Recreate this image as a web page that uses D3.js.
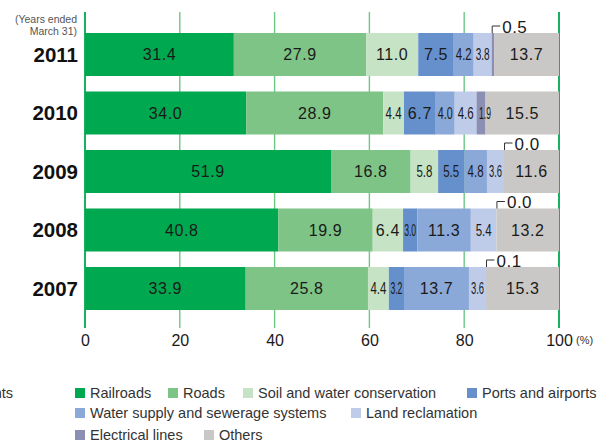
<!DOCTYPE html>
<html>
<head>
<meta charset="utf-8">
<script src="https://cdn.jsdelivr.net/npm/d3@7"></script>
<style>
  html, body { margin: 0; padding: 0; background: #fff; }
  svg { display: block; font-family: "Liberation Sans", Arial, Helvetica, sans-serif; }
</style>
</head>
<body>
<svg id="chart" width="597" height="443"></svg>
<script>
const years = ["2011", "2010", "2009", "2008", "2007"];
const categories = ["Railroads", "Roads", "Soil and water conservation", "Ports and airports",
  "Water supply and sewerage systems", "Land reclamation", "Electrical lines", "Others"];
const railroads  = [31.4, 34.0, 51.9, 40.8, 33.9];
const roads      = [27.9, 28.9, 16.8, 19.9, 25.8];
const soil       = [11.0, 4.4, 5.8, 6.4, 4.4];
const ports      = [7.5, 6.7, 5.5, 3.0, 3.2];
const water      = [4.2, 4.0, 4.8, 11.3, 13.7];
const land       = [3.8, 4.6, 3.6, 5.4, 3.6];
const electrical = [0.5, 1.9, 0.0, 0.0, 0.1];
const others     = [13.7, 15.5, 11.6, 13.2, 15.3];
const tickValues = [0, 20, 40, 60, 80, 100];
const colors = ["#00a850", "#7fc487", "#c6e4c5", "#6690cc", "#8aa8d8", "#bfcce9", "#8a8fb3", "#c9c8c6"];
const calloutIndex = 6; // electrical lines labelled outside when tiny
const calloutYears = ["2011", "2009", "2008", "2007"];

const series = [railroads, roads, soil, ports, water, land, electrical, others];
const rows = years.map((y, i) => {
  const r = { year: y };
  categories.forEach((c, k) => r[c] = series[k][i]);
  return r;
});
const stack = d3.stack().keys(categories)(rows);

const svg = d3.select("#chart");
const x = d3.scaleLinear().domain([0, 100]).range([85, 559]);
const y = d3.scaleBand().domain(years).range([25.25, 317.75]).paddingInner(0.265).paddingOuter(0.1325);

// grid lines
const grid = svg.append("g");
grid.selectAll("line").data(tickValues).join("line")
  .attr("x1", d => x(d)).attr("x2", d => x(d))
  .attr("y1", 12).attr("y2", 328)
  .attr("stroke", d => (d === 0 || d === 100) ? "#00a850" : "#6cc884")
  .attr("stroke-width", d => (d === 0 || d === 100) ? 1.8 : 1.4);

// bars
const layers = svg.append("g").selectAll("g").data(stack).join("g")
  .attr("fill", (d, k) => colors[k]);
layers.selectAll("rect").data(d => d).join("rect")
  .attr("x", d => x(d[0]))
  .attr("y", d => y(d.data.year))
  .attr("width", d => x(d[1]) - x(d[0]))
  .attr("height", y.bandwidth());

// value labels
const labels = svg.append("g").attr("font-size", 16).attr("fill", "#1a1a1a");
stack.forEach((layer, k) => {
  layer.forEach(d => {
    const yr = d.data.year;
    const v = d.data[layer.key];
    if (k === calloutIndex && calloutYears.includes(yr)) return;
    const segW = x(d[1]) - x(d[0]);
    let cx = (x(d[0]) + x(d[1])) / 2;
    if (segW < 12) cx += 4;
    const cy = y(yr) + y.bandwidth() / 2;
    const t = labels.append("text")
      .attr("dy", "0.36em")
      .attr("text-anchor", "middle")
      .text(v.toFixed(1));
    let sx = 1;
    if (segW < 29) {
      const w = Math.max(12, Math.min(16, segW - 4));
      sx = w / t.node().getComputedTextLength();
    } else {
      t.attr("letter-spacing", "0.6px");
    }
    t.attr("transform", `translate(${cx},${cy}) scale(${sx},1)`);
  });
});

// callouts for tiny electrical values
const callouts = svg.append("g");
stack[calloutIndex].forEach(d => {
  const yr = d.data.year;
  if (!calloutYears.includes(yr)) return;
  const bx = x(d[0]) + 0.5;
  const top = y(yr);
  callouts.append("path")
    .attr("d", `M${bx},${top} V${top - 7} H${bx + 8}`)
    .attr("fill", "none").attr("stroke", "#333").attr("stroke-width", 1);
  callouts.append("text")
    .attr("x", bx + 10).attr("y", top - 0.5)
    .attr("font-size", 17).attr("fill", "#1a1a1a").attr("letter-spacing", "0.5px")
    .text(d.data[categories[calloutIndex]].toFixed(1));
});

// year labels
svg.append("g").selectAll("text").data(years).join("text")
  .attr("x", 78).attr("y", d => y(d) + y.bandwidth() / 2)
  .attr("dy", "0.36em").attr("text-anchor", "end")
  .attr("font-size", 20.5).attr("font-weight", "bold").attr("fill", "#111")
  .text(d => d);

svg.append("text").attr("x", 77).attr("y", 23).attr("text-anchor", "end")
  .attr("font-size", 10.5).attr("fill", "#555").text("(Years ended");
svg.append("text").attr("x", 77).attr("y", 35).attr("text-anchor", "end")
  .attr("font-size", 10.5).attr("fill", "#555").text("March 31)");

// x axis labels
const axis = svg.append("g").attr("transform", "translate(0,340)")
  .call(d3.axisBottom(x).tickValues(tickValues).tickSize(0).tickPadding(0).tickFormat(d3.format("d")));
axis.select(".domain").remove();
axis.selectAll("text").attr("font-size", 16).attr("fill", "#1a1a1a")
  .attr("font-family", "'Liberation Sans', Arial, sans-serif").attr("dy", "0.36em").attr("y", 0);
svg.append("text").attr("x", 576).attr("y", 340).attr("dy", "0.36em")
  .attr("font-size", 11).attr("fill", "#333").text("(%)");

// clipped fragment on left edge
svg.append("text").attr("x", 13).attr("y", 393).attr("dy", "0.36em").attr("text-anchor", "end")
  .attr("font-size", 14.5).attr("fill", "#333").text("Investments");

// legend
const legendPos = [
  [75, 393], [168, 393], [243, 393], [467, 393],
  [75, 413], [351, 413],
  [75, 435], [204, 435]
];
const legend = svg.append("g").selectAll("g").data(categories).join("g")
  .attr("transform", (d, i) => `translate(${legendPos[i][0]},${legendPos[i][1]})`);
legend.append("rect").attr("x", 0).attr("y", -5).attr("width", 10).attr("height", 10)
  .attr("fill", (d, i) => colors[i]);
legend.append("text").attr("x", 15).attr("dy", "0.36em")
  .attr("font-size", 14.5).attr("fill", "#333").text(d => d);
</script>
</body>
</html>
